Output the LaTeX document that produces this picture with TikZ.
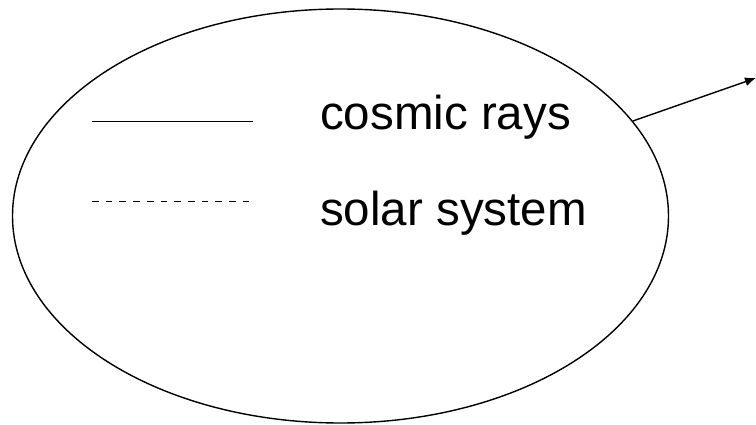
\documentclass[tikz,border=0pt]{standalone}
\usepackage{fontspec}
\setmainfont{Liberation Sans}
\usetikzlibrary{shapes.geometric,arrows.meta}
\begin{document}
\begin{tikzpicture}[x=1pt, y=1pt, line width=1.4pt,
    every node/.style={inner sep=0pt, font=\fontsize{47.5}{57}\selectfont},
    legendline/.style={line width=1.3pt},
    legenddash/.style={line width=1.3pt, dash pattern=on 6.7pt off 7pt}]
            \useasboundingbox (0,0) rectangle (756,424);
            \node[ellipse, draw, minimum width=656pt, minimum height=414pt] (region) at (340.5,208) {};
            \node[anchor=base west] (cr) at (319.5,294) {cosmic rays};
            \node[anchor=base west] (ss) at (319.5,199) {solar system};
            \coordinate (a1) at (92,302.3);   \coordinate (b1) at (253,302.3);
            \coordinate (a2) at (92,222.3);   \coordinate (b2) at (253,222.3);
            \coordinate (out) at (756,346);
            \draw[legendline] (a1) -- (b1);
            \draw[legenddash] (a2) -- (b2);
            \draw[-{Latex[length=11pt,width=9pt]}] (region.18) -- (out);
        \end{tikzpicture}
\end{document}
